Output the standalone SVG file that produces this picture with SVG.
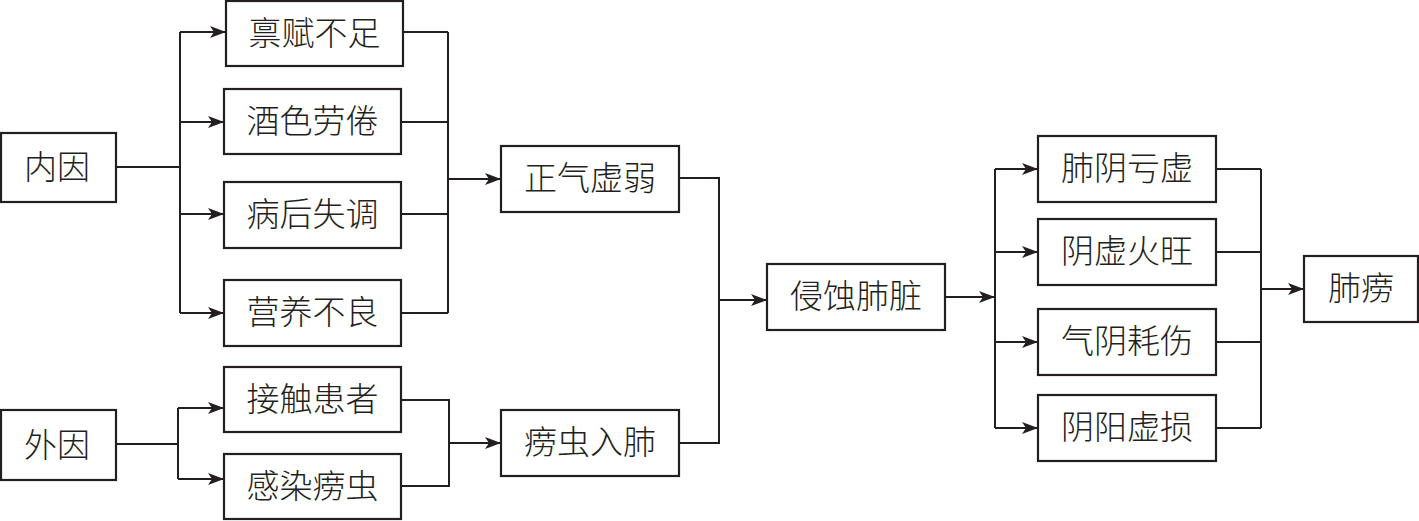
<svg xmlns="http://www.w3.org/2000/svg" width="1419" height="521" viewBox="0 0 1419 521">
<style>
.box{fill:#fff;stroke:#231f20;stroke-width:2.2}
.t{font-family:"Noto Sans CJK SC","Noto Sans CJK TC",sans-serif;font-size:33px;font-weight:300;fill:#231f20;text-anchor:middle}
.c{fill:none;stroke:#231f20;stroke-width:2}
.a{marker-end:url(#arr)}
</style>
<defs>
<marker id="arr" viewBox="0 0 16 12" refX="16" refY="6" markerWidth="16" markerHeight="12" markerUnits="userSpaceOnUse" orient="auto">
<path d="M0,0 L16,6 L0,12 L4,6 Z" fill="#231f20"/>
</marker>
</defs>
<g id="connectors">
<path class="c" d="M116,167 H180 M180,32 V313"/>
<path class="c a" d="M180,32 H226"/>
<path class="c a" d="M180,122 H224"/>
<path class="c a" d="M180,214 H224"/>
<path class="c a" d="M180,313 H224"/>
<path class="c" d="M403,32 H448 M401,122 H448 M401,214 H448 M401,313 H448 M448,32 V313"/>
<path class="c a" d="M448,179 H501"/>
<path class="c" d="M116,444 H178 M178,408 V479"/>
<path class="c a" d="M178,408 H224"/>
<path class="c a" d="M178,479 H224"/>
<path class="c" d="M401,400 H449 V486 H401"/>
<path class="c a" d="M449,443 H501"/>
<path class="c" d="M679,178 H719 V443 H679"/>
<path class="c a" d="M719,300 H767"/>
<path class="c a" d="M945,297 H995"/>
<path class="c" d="M995,169 V428"/>
<path class="c a" d="M995,169 H1038"/>
<path class="c a" d="M995,252 H1038"/>
<path class="c a" d="M995,342 H1038"/>
<path class="c a" d="M995,428 H1038"/>
<path class="c" d="M1216,169 H1261 M1216,252 H1261 M1216,342 H1261 M1216,428 H1261 M1261,169 V428"/>
<path class="c a" d="M1261,289 H1304"/>
</g>
<g id="n-neiyin"><rect class="box" x="1" y="133" width="115" height="69"/><text class="t" x="57" y="179">内因</text></g>
<g id="n-bingfu"><rect class="box" x="226" y="1" width="177" height="65"/><text class="t" x="314.5" y="45">禀赋不足</text></g>
<g id="n-jiuse"><rect class="box" x="224" y="89" width="177" height="65"/><text class="t" x="312.5" y="133">酒色劳倦</text></g>
<g id="n-binghou"><rect class="box" x="224" y="182" width="177" height="66"/><text class="t" x="312.5" y="226">病后失调</text></g>
<g id="n-yingyang"><rect class="box" x="224" y="280" width="177" height="66"/><text class="t" x="312.5" y="324">营养不良</text></g>
<g id="n-waiyin"><rect class="box" x="1" y="410" width="115" height="70"/><text class="t" x="57" y="457">外因</text></g>
<g id="n-jiechu"><rect class="box" x="224" y="367" width="177" height="65"/><text class="t" x="312.5" y="411">接触患者</text></g>
<g id="n-ganran"><rect class="box" x="224" y="454" width="177" height="65"/><text class="t" x="312.5" y="498">感染痨虫</text></g>
<g id="n-zhengqi"><rect class="box" x="501" y="146" width="178" height="66"/><text class="t" x="590" y="190">正气虚弱</text></g>
<g id="n-laochong"><rect class="box" x="501" y="410" width="178" height="66"/><text class="t" x="590" y="454">痨虫入肺</text></g>
<g id="n-qinshi"><rect class="box" x="767" y="264" width="178" height="66"/><text class="t" x="856" y="308">侵蚀肺脏</text></g>
<g id="n-feiyin"><rect class="box" x="1038" y="136" width="178" height="66"/><text class="t" x="1127" y="180">肺阴亏虚</text></g>
<g id="n-yinxu"><rect class="box" x="1038" y="219" width="178" height="66"/><text class="t" x="1127" y="263">阴虚火旺</text></g>
<g id="n-qiyin"><rect class="box" x="1038" y="309" width="178" height="66"/><text class="t" x="1127" y="353">气阴耗伤</text></g>
<g id="n-yinyang"><rect class="box" x="1038" y="395" width="178" height="66"/><text class="t" x="1127" y="439">阴阳虚损</text></g>
<g id="n-feilao"><rect class="box" x="1304" y="256" width="114" height="66"/><text class="t" x="1361" y="300">肺痨</text></g>
</svg>
